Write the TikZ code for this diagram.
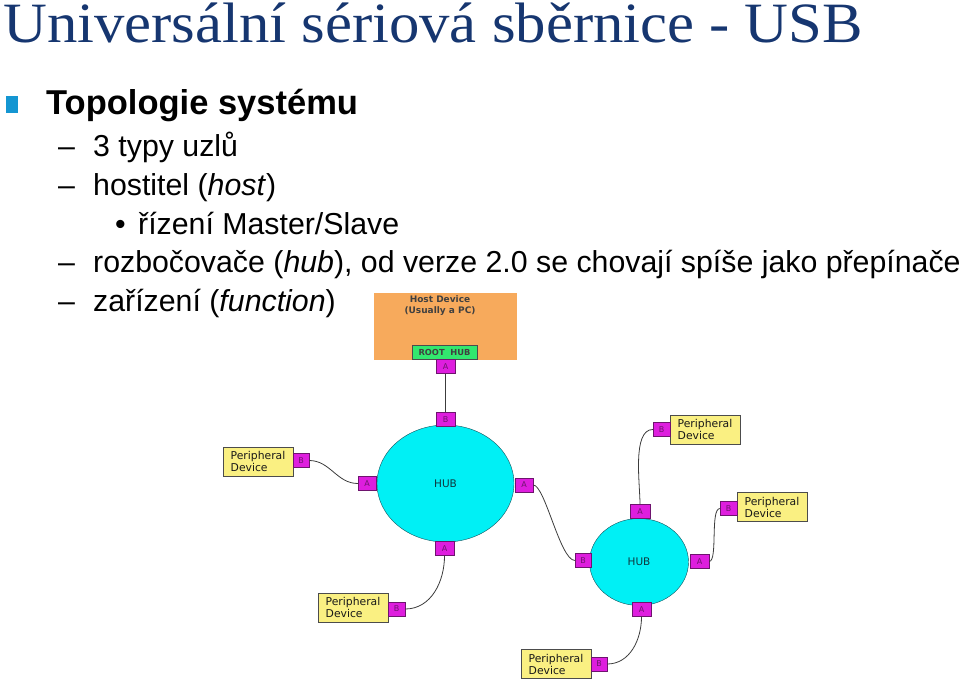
\documentclass[tikz,border=0pt]{standalone}
\usepackage{fontspec}
\setmainfont{Liberation Sans}
\newfontfamily\titlefont{Liberation Serif}
\newfontfamily\diagfont{DejaVu Sans}
\usetikzlibrary{shapes.geometric}

\definecolor{titleblue}{RGB}{22,54,112}
\definecolor{bulletblue}{RGB}{20,150,210}
\definecolor{hostorange}{RGB}{247,170,92}
\definecolor{roothub}{RGB}{50,232,110}
\definecolor{portmag}{RGB}{222,30,222}
\definecolor{portline}{RGB}{110,20,110}
\definecolor{hubcyan}{RGB}{0,240,245}
\definecolor{hubline}{RGB}{20,80,90}
\definecolor{periyellow}{RGB}{250,240,130}
\definecolor{cablegray}{RGB}{60,60,60}

\begin{document}
\begin{tikzpicture}[x=1pt,y=-1pt,
item/.style={anchor=base west,inner sep=0pt,font=\fontsize{30.3}{31}\selectfont},
port/.style={draw=portline,fill=portmag,minimum height=14,inner sep=0pt,text=portline,font=\diagfont\fontsize{8}{8}\selectfont},
hub/.style={ellipse,draw=hubline,fill=hubcyan,inner sep=0pt,text=hubline!70!black,font=\diagfont\fontsize{10.5}{11}\selectfont},
peri/.style={draw=black!70,fill=periyellow,minimum width=70,minimum height=29,inner sep=0pt,align=left,text=black!90,font=\diagfont\fontsize{10.8}{12}\selectfont},
cable/.style={draw=cablegray,line width=0.8}]

\useasboundingbox (0,0) rectangle (960,695);

% slide text
\node[anchor=base west,inner sep=0pt,text=titleblue,font=\titlefont\fontsize{57}{57}\selectfont] (title) at (3,43) {\scalebox{1.065}[1]{Universální sériová sběrnice - USB}};
\node[fill=bulletblue,minimum width=12,minimum height=17,inner sep=0pt] (sq) at (12,104.5) {};
\node[item,font=\bfseries\fontsize{34.5}{35}\selectfont] (topo) at (46,115) {Topologie systému};

\node[item] (d1) at (58,157) {–};
\node[item] (t1) at (93,157) {3 typy uzlů};
\node[item] (d2) at (58,196) {–};
\node[item] (t2) at (93,196) {hostitel (\textit{host})};
\node[item] (b3) at (115,234) {•};
\node[item] (t3) at (138,234) {řízení Master/Slave};
\node[item] (d4) at (58,272) {–};
\node[item] (t4) at (93,272) {rozbočovače (\textit{hub}), od verze 2.0 se chovají spíše jako přepínače};
\node[item] (d5) at (58,311) {–};
\node[item] (t5) at (93,311) {zařízení (\textit{function})};

% host and root hub
\node[fill=hostorange,minimum width=143,minimum height=67] (host) at (445.5,326.5) {};
\node[align=center,text=black!75,font=\diagfont\bfseries\fontsize{9}{11}\selectfont] (hostlbl) at (440,306) {Host Device\\(Usually a PC)};
\node[draw=black!70,fill=roothub,minimum width=65,minimum height=14,inner sep=0pt,text=black!75,font=\diagfont\bfseries\fontsize{8.3}{8}\selectfont] (root) at (444.5,352) {ROOT\ \ HUB};

% hubs
\node[hub,minimum width=137,minimum height=117] (hub1) at (445.5,483.5) {HUB};
\node[hub,minimum width=99,minimum height=87] (hub2) at (639,562) {HUB};

% peripheral devices
\foreach \n/\x/\y in {p1/258/461.5, p2/353/607.5, p3/705/429.5, p4/772/507, p5/556/664}{
\node[peri] (\n) at (\x,\y) {Peripheral\\Device};
}

% ports
\foreach \n/\x/\y/\t/\w in {ra/445.5/366.5/A/19, h1b/445.5/419.5/B/19, h1l/367/483.5/A/18, h1r/524/485/A/18, h1d/444.5/548.5/A/19,
  h2b/583/560.5/B/16, h2t/640/511.5/A/20, h2r/699.5/561.5/A/19, h2d/641.5/609.5/A/19,
  p1b/301/460.5/B/16, p2b/396.5/609/B/17, p3b/661.5/429.5/B/17, p4b/728.5/508.5/B/17, p5b/599/664/B/16}{
\node[port,minimum width=\w] (\n) at (\x,\y) {\t};
}

% cables
\draw[cable] (ra) -- (h1b);
\draw[cable] (p1b.east) to[out=0,in=180] (h1l.west);
\draw[cable] (h1d.south) to[out=-90,in=0] (p2b.east);
\draw[cable] (h1r.east) .. controls (545,485) and (560,560) .. (h2b.west);
\draw[cable] (h2t.north) to[out=90,in=180,looseness=0.7] (p3b.west);
\draw[cable] (h2r.east) .. controls (718,561) and (710,509) .. (p4b.west);
\draw[cable] (h2d.south) to[out=-90,in=0] (p5b.east);

\end{tikzpicture}
\end{document}
